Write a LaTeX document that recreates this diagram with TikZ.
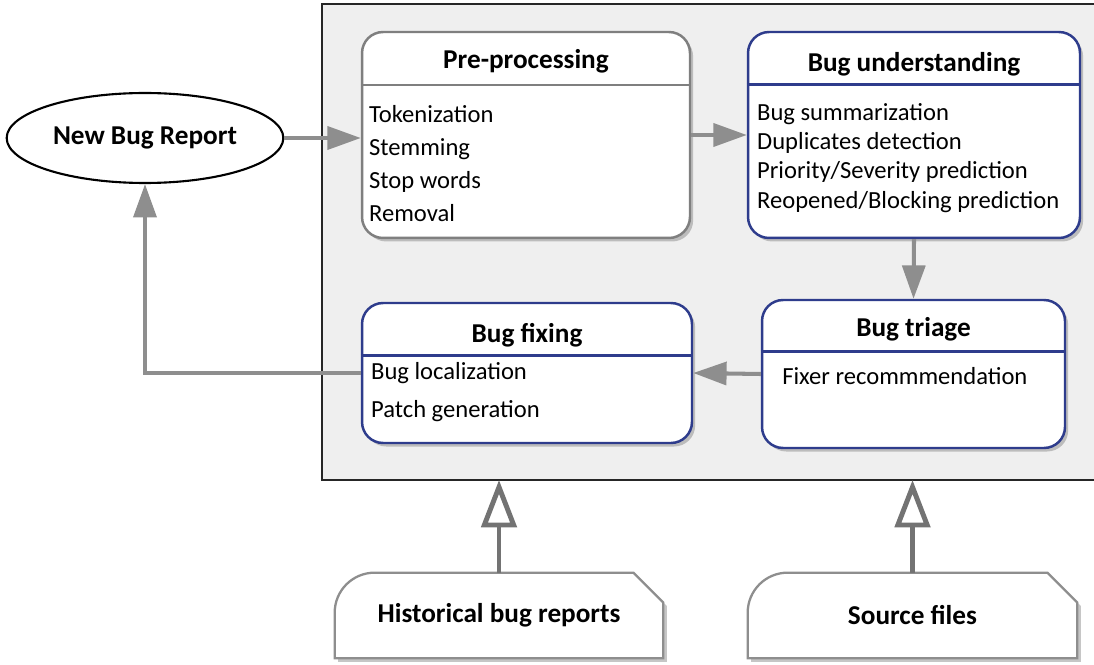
\documentclass[tikz,border=0pt]{standalone}
\usepackage{fontspec}
\setmainfont{Carlito}
\usepackage{tikz}
\usetikzlibrary{arrows.meta,positioning,shapes.geometric,shadows}

\definecolor{framebg}{HTML}{EFEFEF}
\definecolor{stageblue}{HTML}{2E3C8C}
\definecolor{stagegray}{HTML}{7F7F7F}
\definecolor{flowgray}{HTML}{8E8E8E}
\definecolor{feedgray}{HTML}{737373}

\begin{document}
\begin{tikzpicture}[x=0.02cm,y=-0.02cm,
  every node/.style={font=\fontsize{14}{17}\selectfont},
  stage/.style={fill=white,line width=1.4pt,rounded corners=0.42cm,
    drop shadow={shadow xshift=1.8pt,shadow yshift=-2pt,opacity=0.45}},
  head/.style={font=\bfseries\fontsize{15.5}{18}\selectfont},
  items/.style={anchor=north west,align=left,inner sep=0pt},
  flow/.style={draw=flowgray,line width=2.3pt,-{Triangle[length=19pt,width=13pt]}},
  feed/.style={draw=feedgray,line width=2.8pt,-{Triangle[open,length=27pt,width=20pt]}},
  docline/.style={draw=flowgray,line width=1.3pt,fill=white,
    drop shadow={shadow xshift=2pt,shadow yshift=-2pt,opacity=0.45}}]
  \useasboundingbox (0,0) rectangle (1094,665);
  % 外框
  \fill[framebg] (322,4) rectangle (1094,480);
  \draw[line width=1.1pt,black!85] (1094,4) -- (322,4) -- (322,480) -- (1094,480);
  \coordinate (framebot) at (700,480);
  % 新报告
  \node[ellipse,draw=black,line width=1.2pt,fill=white,minimum width=5.32cm,minimum height=1.8cm,head]
    (newbug) at (145,138) {New Bug Report};
  % 预处理
  \node[stage,draw=stagegray,minimum width=6.56cm,minimum height=4.12cm] (pre) at (526,135) {};
  \node[head] (pretitle) at ([yshift=-17.5pt]pre.north) {Pre-processing};
  \draw[stagegray,line width=1.4pt] ([yshift=-31pt]pre.north west) -- ([yshift=-31pt]pre.north east);
  \node[items,font=\fontsize{14}{18.7}\selectfont] (prebody) at ([xshift=4.5pt,yshift=-42.5pt]pre.north west)
    {Tokenization\\Stemming\\Stop words\\Removal};
  % 理解
  \node[stage,draw=stageblue,minimum width=6.64cm,minimum height=4.12cm] (und) at (914,135) {};
  \node[head] (undtitle) at ([yshift=-18.8pt]und.north) {Bug understanding};
  \draw[stageblue,line width=1.4pt] ([yshift=-30.6pt]und.north west) -- ([yshift=-30.6pt]und.north east);
  \node[items,font=\fontsize{14}{16.6}\selectfont] (undbody) at ([xshift=5.7pt,yshift=-41.2pt]und.north west)
    {Bug summarization\\Duplicates detection\\Priority/Severity prediction\\Reopened/Blocking prediction};
  % 分派
  \node[stage,draw=stageblue,minimum width=6.06cm,minimum height=2.96cm] (tri) at (913.5,374) {};
  \node[head] (trititle) at ([yshift=-17.3pt]tri.north) {Bug triage};
  \draw[stageblue,line width=1.4pt] ([yshift=-30pt]tri.north west) -- ([yshift=-30pt]tri.north east);
  \node[items] (tribody) at ([xshift=12pt,yshift=-39pt]tri.north west) {Fixer recommmendation};
  % 修复
  \node[stage,draw=stageblue,minimum width=6.6cm,minimum height=2.8cm] (fix) at (527,373) {};
  \node[head] (fixtitle) at ([yshift=-18.8pt]fix.north) {Bug fixing};
  \draw[stageblue,line width=1.4pt] ([yshift=-30.6pt]fix.north west) -- ([yshift=-30.6pt]fix.north east);
  \node[items,font=\fontsize{14}{21.5}\selectfont] (fixbody) at ([xshift=5.7pt,yshift=-34.5pt]fix.north west)
    {Bug localization\\Patch generation};
  % 数据源
  \node[minimum width=6.56cm,minimum height=1.7cm] (hist) at (499,615.5) {};
  \draw[docline] (hist.south west) [rounded corners=0.8cm] -- (hist.north west) [sharp corners]
    -- ([xshift=-17pt]hist.north east) -- ([yshift=-17pt]hist.north east) -- (hist.south east) -- cycle;
  \node[head] at (hist) {Historical bug reports};
  \node[minimum width=6.58cm,minimum height=1.7cm] (src) at (912.5,615.5) {};
  \draw[docline] (src.south west) [rounded corners=0.8cm] -- (src.north west) [sharp corners]
    -- ([xshift=-17pt]src.north east) -- ([yshift=-17pt]src.north east) -- (src.south east) -- cycle;
  \node[head] at (src) {Source files};
  % 流程箭头
  \draw[flow] (newbug.east) -- (newbug.east -| pre.west);
  \draw[flow] (pre.east) -- (und.west);
  \draw[flow] (und.south) -- (tri.north);
  \draw[flow] (tri.west) -- (fix.east);
  \draw[flow] (fix.west) -- (fix.west -| newbug.south) -- (newbug.south);
  \draw[feed] (hist.north) -- (hist.north |- framebot);
  \draw[feed] (src.north) -- (src.north |- framebot);
\end{tikzpicture}
\end{document}
